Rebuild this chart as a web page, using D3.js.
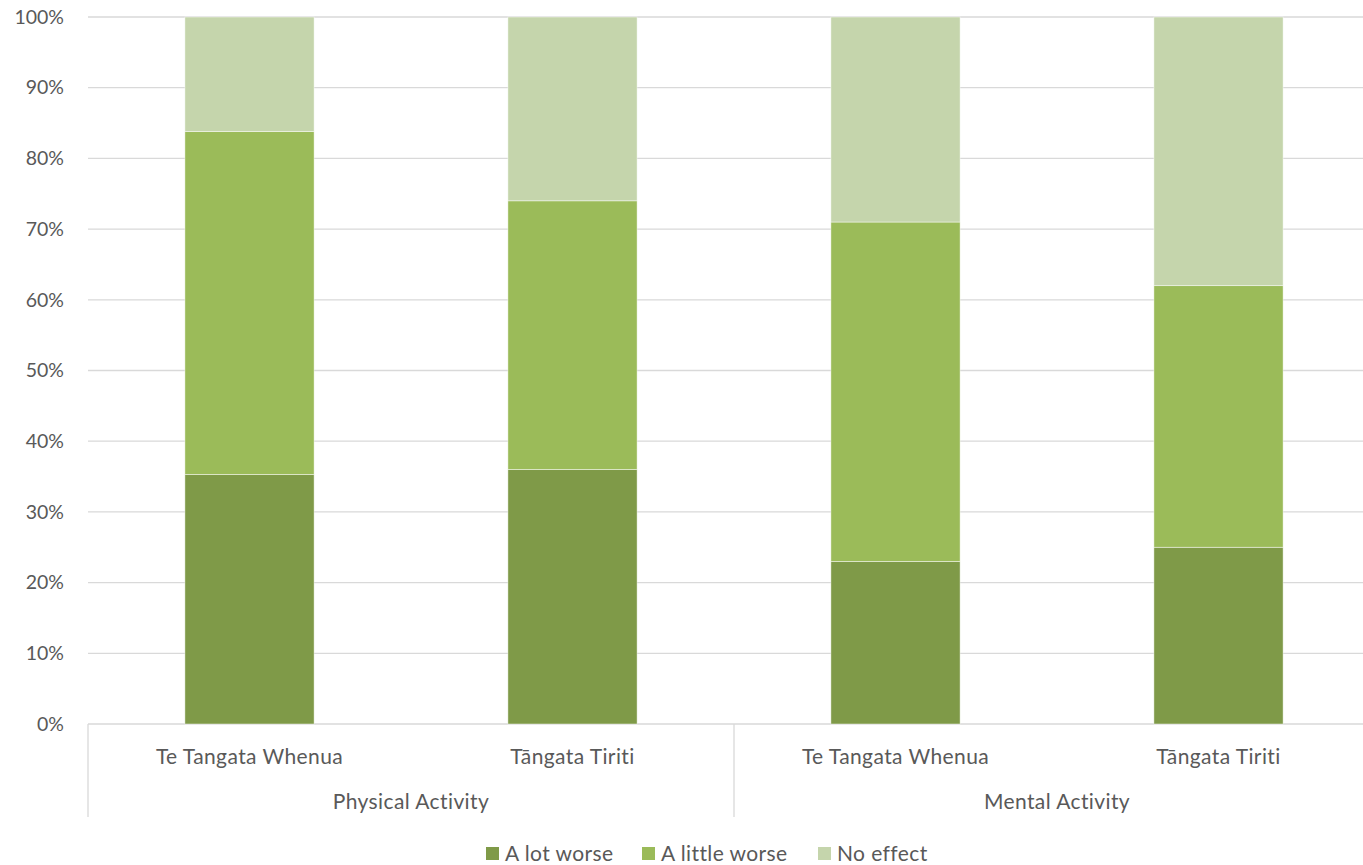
<!DOCTYPE html>
<html>
<head>
<meta charset="utf-8">
<script src="https://cdn.jsdelivr.net/npm/d3@7"></script>
<style>
  html, body { margin: 0; padding: 0; background: #fff; }
  svg { display: block; }
  text { font-family: Lato, "Open Sans", sans-serif; fill: #595959; }
  .lbl { font-size: 21px; letter-spacing: 0.4px; }
</style>
</head>
<body>
<svg id="chart" width="1363" height="865"></svg>
<script>
// Groups and sub-categories along the x axis
const groups = ["Physical Activity", "Mental Activity"];
const subgroups = ["Te Tangata Whenua", "Tāngata Tiriti"];

// Series (percent of respondents)
const seriesNames = ["A lot worse", "A little worse", "No effect"];
const aLotWorse    = [35.3, 36.0, 23.0, 25.0];
const aLittleWorse = [48.5, 38.0, 48.0, 37.0];
const noEffect     = [16.2, 26.0, 29.0, 38.0];

const yTicks = [0, 10, 20, 30, 40, 50, 60, 70, 80, 90, 100];
const colors = ["#7F9A48", "#9BBB59", "#C5D5AC"];

// Flatten group/sub-category pairs into bar rows
const rows = [];
groups.forEach((g, gi) => subgroups.forEach((s, si) => {
  const i = gi * subgroups.length + si;
  rows.push({ key: g + "|" + s, group: g, sub: s,
    [seriesNames[0]]: aLotWorse[i],
    [seriesNames[1]]: aLittleWorse[i],
    [seriesNames[2]]: noEffect[i] });
}));

const svg = d3.select("#chart");
const plotLeft = 88, plotRight = 1380, plotTop = 17, plotBottom = 724;

const x = d3.scaleBand().domain(rows.map(d => d.key)).range([plotLeft, plotRight]).paddingInner(0.6).paddingOuter(0.3);
const y = d3.scaleLinear().domain([0, 100]).range([plotBottom, plotTop]);

// Horizontal gridlines
svg.append("g").selectAll("line").data(yTicks).join("line")
  .attr("x1", plotLeft).attr("x2", plotRight)
  .attr("y1", d => y(d)).attr("y2", d => y(d))
  .attr("stroke", "#D9D9D9").attr("stroke-width", 1.3);

// Y axis labels
const yAxis = d3.axisLeft(y).tickValues(yTicks).tickFormat(d => d + "%").tickSize(0).tickPadding(24);
const gy = svg.append("g").attr("transform", `translate(${plotLeft},0)`).call(yAxis);
gy.select(".domain").remove();
gy.selectAll("text").attr("font-size", 19.5).attr("fill", "#595959")
  .style("font-family", "Lato, 'Open Sans', sans-serif");

// Stacked bars
const stack = d3.stack().keys(seriesNames);
const layers = stack(rows);
svg.append("g").selectAll("g").data(layers).join("g")
  .attr("fill", (d, i) => colors[i])
  .selectAll("rect").data(d => d).join("rect")
  .attr("x", d => x(d.data.key))
  .attr("width", x.bandwidth())
  .attr("y", d => y(d[1]))
  .attr("height", d => y(d[0]) - y(d[1]))
  .attr("stroke", "#fff").attr("stroke-width", 0.75).attr("stroke-opacity", 0.6);

// Category axis: sub-category labels
const step = x.step();
svg.append("g").selectAll("text").data(rows).join("text")
  .attr("class", "lbl")
  .attr("x", d => x(d.key) + x.bandwidth() / 2)
  .attr("y", 764)
  .attr("text-anchor", "middle")
  .text(d => d.sub);

// Group labels, centred on their span
const groupSpan = g => {
  const ks = rows.filter(r => r.group === g).map(r => r.key);
  const x0 = x(ks[0]) - (step - x.bandwidth()) / 2;
  const x1 = x(ks[ks.length - 1]) + x.bandwidth() + (step - x.bandwidth()) / 2;
  return [x0, x1];
};
svg.append("g").selectAll("text").data(groups).join("text")
  .attr("class", "lbl")
  .attr("x", g => d3.mean(groupSpan(g)))
  .attr("y", 809)
  .attr("text-anchor", "middle")
  .text(g => g);

// Group divider lines below the axis
const dividers = groups.map(g => groupSpan(g)[0]);
svg.append("g").selectAll("line").data(dividers).join("line")
  .attr("x1", d => d).attr("x2", d => d)
  .attr("y1", plotBottom).attr("y2", 817)
  .attr("stroke", "#D9D9D9").attr("stroke-width", 1.3);

// Legend
const legendX = [486, 642, 818];
const lg = svg.append("g").selectAll("g").data(seriesNames).join("g")
  .attr("transform", (d, i) => `translate(${legendX[i]},847)`);
lg.append("rect").attr("width", 13).attr("height", 13).attr("fill", (d, i) => colors[i]);
lg.append("text").attr("class", "lbl").attr("x", 19).attr("y", 13.5).text(d => d);
</script>
</body>
</html>
